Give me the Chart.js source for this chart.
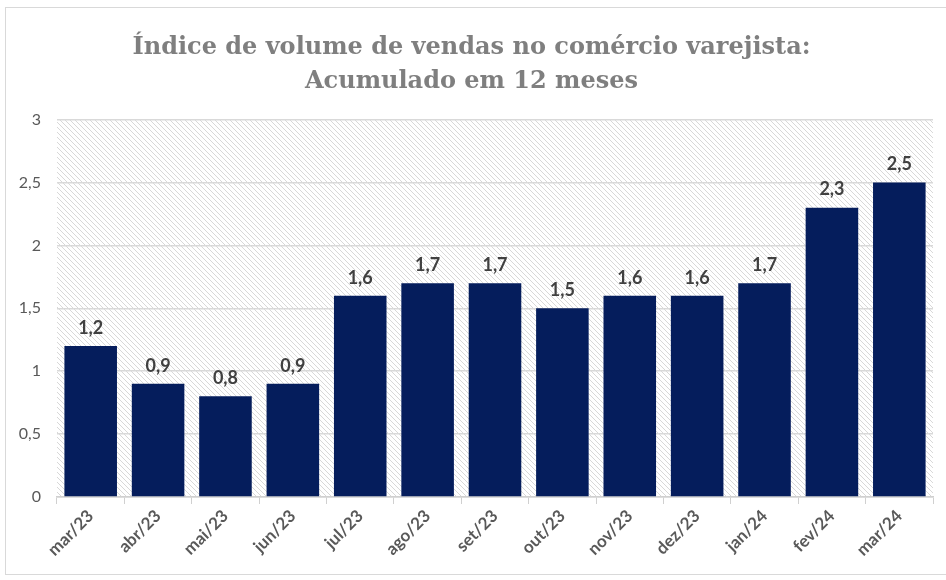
<!DOCTYPE html>
<html>
<head>
<meta charset="utf-8">
<script src="https://cdn.jsdelivr.net/npm/chart.js@4.4.1/dist/chart.umd.min.js"></script>
<style>
  html, body { margin: 0; padding: 0; background: #fff; overflow: hidden; }
  #wrap { position: absolute; left: 0; top: 0; width: 946px; height: 580px; overflow: hidden; }
  #frame { position: absolute; left: 5px; top: 7px; width: 941px; height: 568px; border: 1px solid #d9d9d9; border-right: none; box-sizing: border-box; }
  canvas { position: absolute; left: 0; top: 0; }
</style>
</head>
<body>
<div id="wrap">
  <div id="frame"></div>
  <canvas id="barChart" width="946" height="580"></canvas>
</div>
<script>
// Dados
const meses = ['mar/23', 'abr/23', 'mai/23', 'jun/23', 'jul/23', 'ago/23', 'set/23', 'out/23', 'nov/23', 'dez/23', 'jan/24', 'fev/24', 'mar/24'];
const volumeVendas = [1.2, 0.9, 0.8, 0.9, 1.6, 1.7, 1.7, 1.5, 1.6, 1.6, 1.7, 2.3, 2.5];
const ticksY = [0, 0.5, 1, 1.5, 2, 2.5, 3];

const fmt = v => String(v).replace('.', ',');

// hatch pattern for the plot area
function makeHatch() {
  const c = document.createElement('canvas');
  c.width = 5; c.height = 5;
  const g = c.getContext('2d');
  g.fillStyle = '#ffffff';
  g.fillRect(0, 0, 5, 5);
  g.strokeStyle = '#d8d8d8';
  g.lineWidth = 1;
  g.beginPath();
  g.moveTo(0, 0); g.lineTo(5, 5);
  g.moveTo(-2.5, 2.5); g.lineTo(2.5, 7.5);
  g.moveTo(2.5, -2.5); g.lineTo(7.5, 2.5);
  g.stroke();
  return g.createPattern(c, 'repeat');
}

const hatchBg = {
  id: 'hatchBg',
  beforeDraw(chart) {
    const { ctx, chartArea: a } = chart;
    ctx.save();
    ctx.fillStyle = makeHatch();
    ctx.fillRect(a.left, a.top, a.right - a.left, a.bottom - a.top);
    ctx.restore();
  }
};

const valueLabels = {
  id: 'valueLabels',
  afterDatasetsDraw(chart) {
    const { ctx } = chart;
    const meta = chart.getDatasetMeta(0);
    ctx.save();
    ctx.font = 'bold 18px Lato';
    ctx.fillStyle = '#404040';
    ctx.textAlign = 'center';
    ctx.textBaseline = 'bottom';
    meta.data.forEach((bar, i) => {
      ctx.fillText(fmt(volumeVendas[i]), bar.x, bar.y - 9);
    });
    ctx.restore();
  }
};

const ctxBar = document.getElementById('barChart').getContext('2d');
const barChart = new Chart(ctxBar, {
  type: 'bar',
  data: {
    labels: meses,
    datasets: [{
      label: 'Índice',
      data: volumeVendas,
      backgroundColor: '#051d5c',
      categoryPercentage: 0.78,
      barPercentage: 1
    }]
  },
  options: {
    responsive: false,
    animation: false,
    layout: { padding: { left: 10, right: 13, top: 14, bottom: 0 } },
    plugins: {
      legend: { display: false },
      tooltip: { enabled: false },
      title: {
        display: true,
        text: ['Índice de volume de vendas no comércio varejista:', 'Acumulado em 12 meses'],
        color: '#7f7f7f',
        font: { family: 'DejaVu Serif', size: 24, weight: 'bold', lineHeight: 1.45 },
        padding: { top: 16, bottom: 20 }
      }
    },
    scales: {
      y: {
        min: 0, max: 3,
        afterBuildTicks: axis => { axis.ticks = ticksY.map(v => ({ value: v })); },
        afterFit: axis => { axis.width = 47; },
        ticks: {
          color: '#595959',
          font: { family: 'Lato', size: 16 },
          padding: 16,
          callback: v => fmt(v)
        },
        grid: { color: '#d9d9d9', lineWidth: 1.5, drawTicks: false },
        border: { display: false }
      },
      x: {
        afterFit: axis => { axis.height = 83; },
        ticks: {
          color: '#595959',
          font: { family: 'Lato', size: 17, weight: 'bold' },
          maxRotation: 45, minRotation: 45,
          padding: 2
        },
        grid: { display: true, drawOnChartArea: false, color: '#d0d0d0', tickLength: 7, offset: true },
        border: { display: true, color: '#d0d0d0', width: 1.5 }
      }
    }
  },
  plugins: [hatchBg, valueLabels]
});
</script>
</body>
</html>
